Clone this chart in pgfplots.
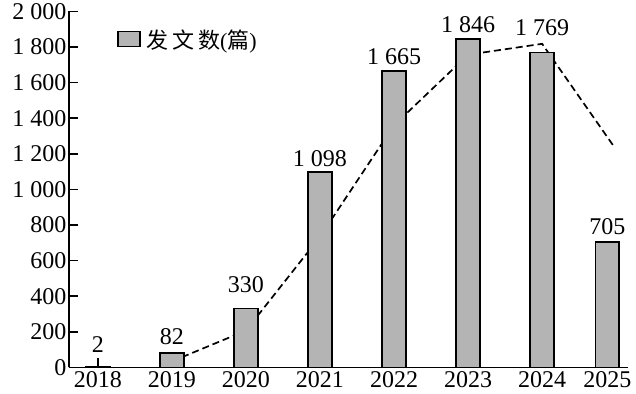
\documentclass[border=0pt]{standalone}
\usepackage{pgfplots}
\pgfplotsset{compat=1.18}
\usepackage{fontspec}
\setmainfont{Liberation Serif}
\newfontfamily\cjk{Noto Sans CJK SC}
\definecolor{bargray}{RGB}{180,180,180}
\begin{document}
\begin{tikzpicture}
\begin{axis}[
  scale only axis, width=559pt, height=356pt,
  xmin=-0.39, xmax=7.16, ymin=0, ymax=2000,
  axis lines*=left,
  axis line style={line width=1.7pt, black},
  ytick={0,200,...,2000},
  xtick={0,1,2,3,4,5,6,6.88},
  xticklabels={2018,2019,2020,2021,2022,2023,2024,2025},
  tick align=inside,
  major tick length=9pt,
  tick style={line width=1.5pt, black},
  every tick label/.append style={font=\fontsize{24}{26}\selectfont},
  yticklabel style={xshift=1pt},
  xticklabel style={yshift=-1pt},
  /pgf/number format/assume math mode=true,
  /pgf/number format/1000 sep={\hspace{0.25em}},
  legend style={draw=none, fill=none, at={(0.086,0.955)}, anchor=north west,
    font=\fontsize{22}{24}\selectfont, inner sep=0pt},
  legend image code/.code={\draw[#1, line width=1.5pt] (0pt,-7pt) rectangle (22pt,8pt);},
]
\addplot[black, line width=1.7pt, dash pattern=on 7pt off 4pt, forget plot]
  coordinates {(1,34) (2,207) (3,734) (4,1360) (5,1757) (6,1818) (6.96,1247)};
\addplot[ybar, bar width=0.32, fill=bargray, draw=black, line width=1.6pt]
  coordinates {(0,2) (1,82) (2,330) (3,1098) (4,1665) (5,1846) (6,1769) (6.88,705)};
\addlegendentry{\hspace{4pt}{\cjk 发\,文\,数}({\cjk 篇})}
\addplot[draw=none, mark=none, forget plot, point meta=explicit symbolic,
  nodes near coords, nodes near coords align={center},
  nodes near coords style={font=\fontsize{24}{26}\selectfont, anchor=south}]
  coordinates {(0,66)[2] (1,110)[82] (2,397)[330] (3,1110)[1\hspace{0.25em}098]
    (4,1678)[1\hspace{0.25em}665] (5,1858)[1\hspace{0.25em}846]
    (6,1846)[1\hspace{0.25em}769] (6.88,723)[705]};
\end{axis}
\path (current axis.south west) ++(-69pt,-26pt) (current axis.north east) ++(8pt,11pt);
\end{tikzpicture}
\end{document}
